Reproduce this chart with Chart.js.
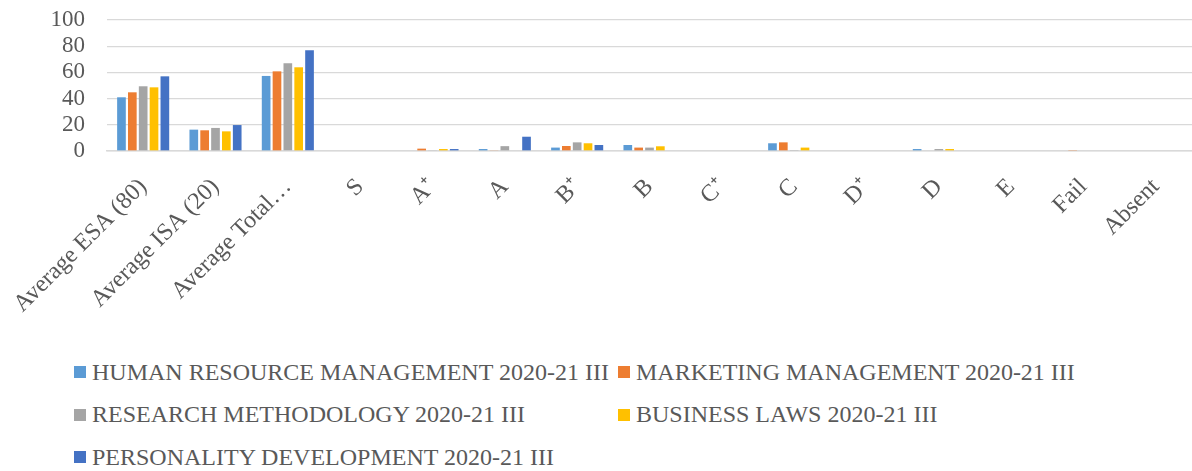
<!DOCTYPE html>
<html>
<head>
<meta charset="utf-8">
<script src="https://cdn.jsdelivr.net/npm/chart.js@4.4.1/dist/chart.umd.min.js"></script>
<style>
  html, body { margin: 0; padding: 0; background: #fff; }
  #wrap { position: relative; width: 1192px; height: 471px; overflow: hidden; }
  #chartBox { position: absolute; left: 0; top: 0; width: 1192px; height: 340px; }
  #legend {
    position: absolute; left: 74px; top: 351px;
    display: grid; grid-template-columns: 544px auto;
    grid-auto-rows: 42.5px;
    font-family: "Liberation Serif", "Times New Roman", serif;
    font-size: 24px; color: #595959;
  }
  .item { display: flex; align-items: center; white-space: nowrap; }
  .swatch { width: 12px; height: 12px; margin-right: 6px; flex: none; }
</style>
</head>
<body>
<div id="wrap">
  <div id="chartBox"><canvas id="gradesChart"></canvas></div>
  <div id="legend"></div>
</div>
<script>
// Résultats par matière : moyennes puis répartition des grades
const categories = ['Average ESA (80)', 'Average ISA (20)', 'Average Total…', 'S', 'A⁺', 'A', 'B⁺', 'B', 'C⁺', 'C', 'D⁺', 'D', 'E', 'Fail', 'Absent'];

const hrmValues = [41, 16.3, 57.3, 0, 0, 1.5, 2.6, 4.6, 0, 5.9, 0, 1.5, 0, 0, 0];
const marketingValues = [44.8, 15.8, 60.8, 0, 1.8, 0.4, 3.8, 2.6, 0, 6.6, 0, 0, 0, 0.3, 0];
const researchValues = [49.4, 17.6, 67, 0, 0.4, 3.7, 6.6, 2.6, 0, 0.3, 0, 1.5, 0, 0, 0];
const lawValues = [48.6, 15, 63.9, 0, 1.5, 0.5, 5.9, 3.6, 0, 2.6, 0, 1.5, 0, 0, 0];
const personalityValues = [57, 19.8, 77, 0, 1.5, 10.9, 4.6, 0, 0, 0, 0, 0, 0, 0, 0];

const yTicks = [0, 20, 40, 60, 80, 100];

const seriesNames = [
  'HUMAN RESOURCE MANAGEMENT 2020-21 III',
  'MARKETING MANAGEMENT 2020-21 III',
  'RESEARCH METHODOLOGY 2020-21 III',
  'BUSINESS LAWS 2020-21 III',
  'PERSONALITY DEVELOPMENT 2020-21 III'
];
const seriesColors = ['#5B9BD5', '#ED7D31', '#A5A5A5', '#FFC000', '#4472C4'];
const seriesValues = [hrmValues, marketingValues, researchValues, lawValues, personalityValues];

const serif = '"Liberation Serif", "Times New Roman", serif';
const gridColor = '#d9d9d9';

const datasets = seriesNames.map((name, i) => ({
  label: name,
  data: seriesValues[i],
  backgroundColor: seriesColors[i],
  borderWidth: 0,
  categoryPercentage: 0.75,
  barPercentage: 0.8
}));

const chart = new Chart(document.getElementById('gradesChart'), {
  type: 'bar',
  data: { labels: categories, datasets: datasets },
  options: {
    responsive: true,
    maintainAspectRatio: false,
    animation: false,
    layout: { padding: { top: 20, right: 0, bottom: 0, left: 0 } },
    scales: {
      y: {
        min: 0,
        max: 100,
        afterBuildTicks: function(scale) {
          scale.ticks = yTicks.map(v => ({ value: v }));
        },
        afterFit: function(scale) {
          // largeur fixe, sans marge réservée pour les libellés extrêmes
          scale.width = 107;
          scale.paddingTop = 0;
          scale.paddingBottom = 0;
        },
        border: { display: false },
        grid: { color: gridColor, lineWidth: 1.3, drawTicks: false },
        ticks: {
          autoSkip: false,
          padding: 22,
          color: '#595959',
          font: { family: serif, size: 23 }
        }
      },
      x: {
        afterFit: function(scale) {
          scale.height = 189;
          scale.paddingLeft = 0;
          scale.paddingRight = 0;
        },
        border: { display: true, color: gridColor, width: 1.5 },
        grid: { display: false, drawTicks: false },
        ticks: {
          autoSkip: false,
          maxRotation: 45,
          minRotation: 45,
          padding: 22,
          color: '#595959',
          font: { family: serif, size: 24 }
        }
      }
    },
    plugins: {
      legend: { display: false },
      tooltip: { enabled: false }
    }
  }
});

// Légende HTML sur deux colonnes, construite depuis les datasets
const legendEl = document.getElementById('legend');
chart.options.plugins.legend.labels.generateLabels(chart).forEach(item => {
  const row = document.createElement('div');
  row.className = 'item';
  const box = document.createElement('span');
  box.className = 'swatch';
  box.style.background = item.fillStyle;
  const text = document.createElement('span');
  text.textContent = item.text;
  row.appendChild(box);
  row.appendChild(text);
  legendEl.appendChild(row);
});
</script>
</body>
</html>
